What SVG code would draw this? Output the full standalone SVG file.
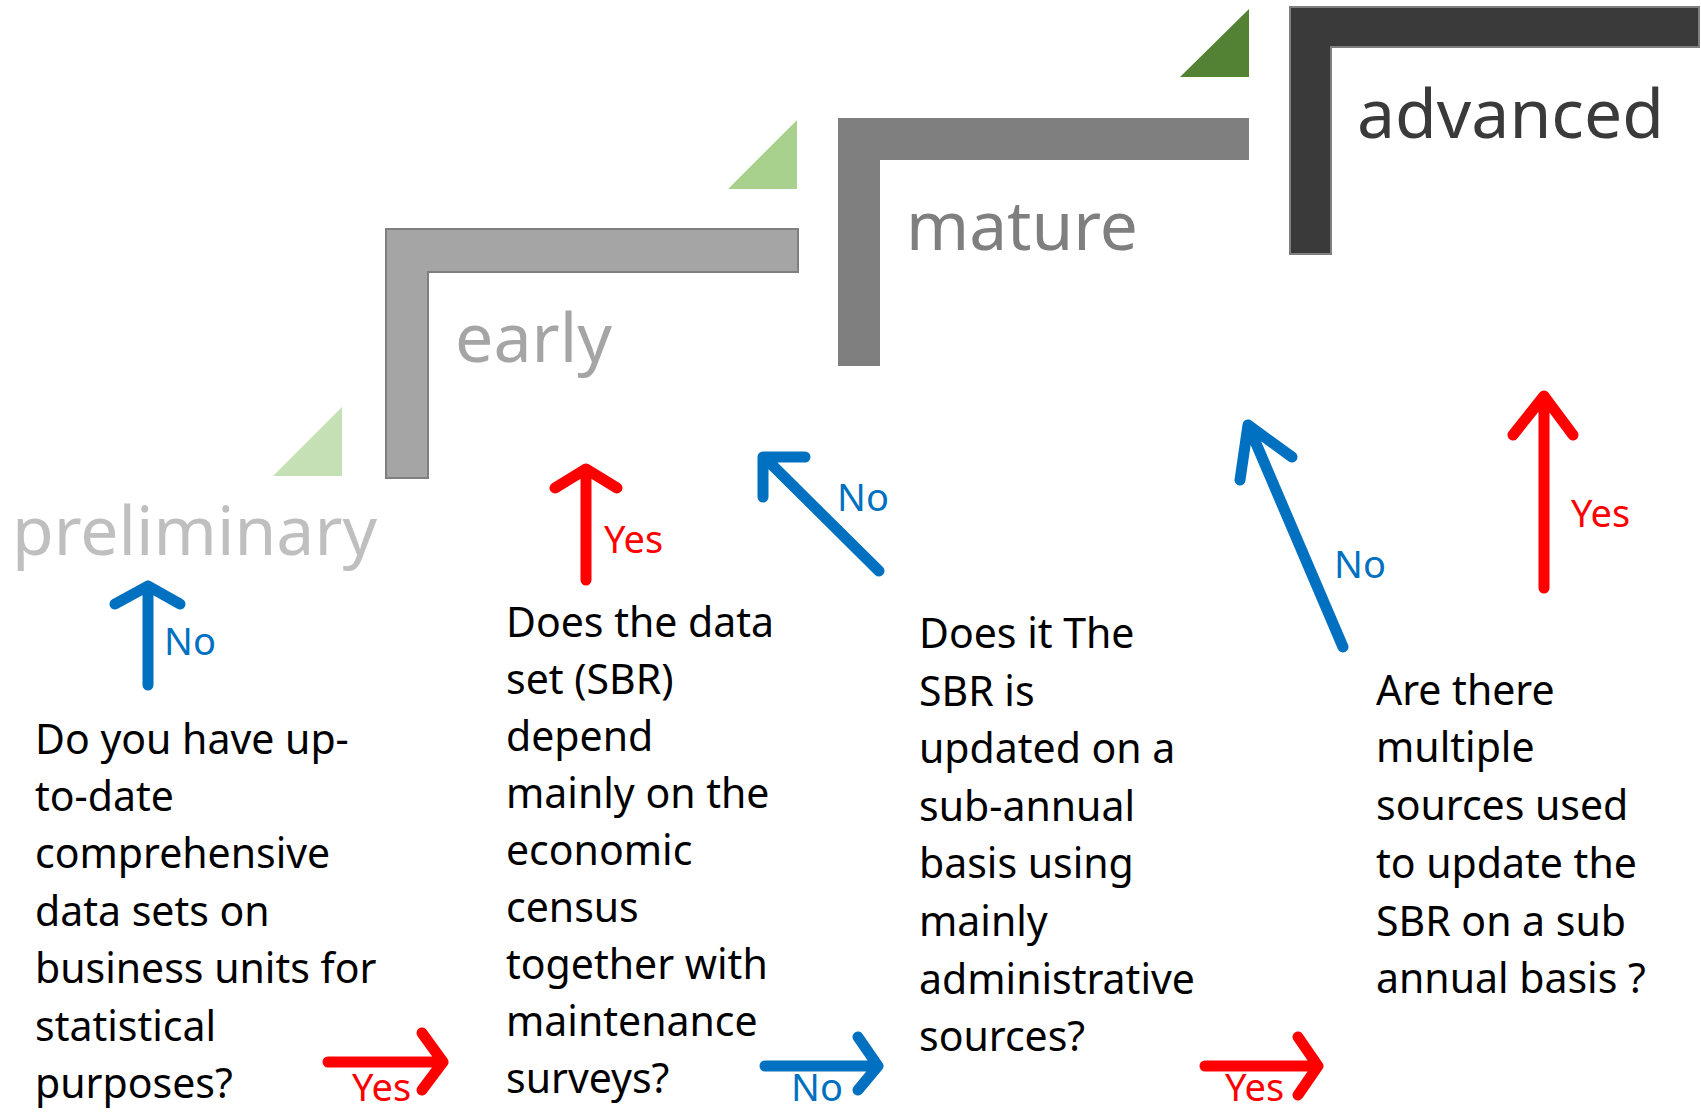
<svg xmlns="http://www.w3.org/2000/svg" width="1701" height="1112" viewBox="0 0 1701 1112">
<style>
.q{font-family:"Noto Sans","Open Sans","Liberation Sans",sans-serif;font-size:41px;fill:#000}
.lbl{font-family:"Noto Sans","Open Sans","Liberation Sans",sans-serif;font-size:68px}
.yn{font-family:"Noto Sans","Open Sans","Liberation Sans",sans-serif;font-size:38px}
.blue{stroke:#0070C0;stroke-width:11;fill:none;stroke-linecap:round;stroke-linejoin:round}
.red{stroke:#FF0000;stroke-width:11;fill:none;stroke-linecap:round;stroke-linejoin:round}
.bt{fill:#0070C0}
.rt{fill:#FF0000}
</style>
<rect width="1701" height="1112" fill="#fff"/>
<g id="stage-preliminary">
<polygon points="273,476 342,476 342,407" fill="#C5E0B4"/>
<text class="lbl" x="12" y="555" fill="#BFBFBF" textLength="365" lengthAdjust="spacingAndGlyphs">preliminary</text>
</g>
<g id="stage-early">
<polygon points="386,229 798,229 798,272 428,272 428,478 386,478" fill="#A5A5A5" stroke="#7F7F7F" stroke-width="2"/>
<polygon points="728,189 797,189 797,120" fill="#A9D18E"/>
<text class="lbl" x="455" y="362" fill="#A5A5A5" textLength="157" lengthAdjust="spacingAndGlyphs">early</text>
</g>
<g id="stage-mature">
<polygon points="838,118 1249,118 1249,160 880,160 880,366 838,366" fill="#7F7F7F"/>
<polygon points="1180,77 1249,77 1249,9" fill="#548235"/>
<text class="lbl" x="906" y="250" fill="#7F7F7F" textLength="232" lengthAdjust="spacingAndGlyphs">mature</text>
</g>
<g id="stage-advanced">
<polygon points="1290,7 1699,7 1699,47 1331,47 1331,254 1290,254" fill="#3A3A3A" stroke="#7F7F7F" stroke-width="2"/>
<text class="lbl" x="1357" y="138" fill="#3A3A3A" textLength="307" lengthAdjust="spacingAndGlyphs">advanced</text>
</g>
<g id="q1">
<text class="q" x="35" y="754">Do you have up-</text>
<text class="q" x="35" y="811">to-date</text>
<text class="q" x="35" y="868">comprehensive</text>
<text class="q" x="35" y="926">data sets on</text>
<text class="q" x="35" y="983">business units for</text>
<text class="q" x="35" y="1041">statistical</text>
<text class="q" x="35" y="1098">purposes?</text>
</g>
<g id="q2">
<text class="q" x="506" y="637">Does the data</text>
<text class="q" x="506" y="694">set (SBR)</text>
<text class="q" x="506" y="751">depend</text>
<text class="q" x="506" y="808">mainly on the</text>
<text class="q" x="506" y="865">economic</text>
<text class="q" x="506" y="922">census</text>
<text class="q" x="506" y="979">together with</text>
<text class="q" x="506" y="1036">maintenance</text>
<text class="q" x="506" y="1093">surveys?</text>
</g>
<g id="q3">
<text class="q" x="919" y="648">Does it The</text>
<text class="q" x="919" y="706">SBR is</text>
<text class="q" x="919" y="763">updated on a</text>
<text class="q" x="919" y="821">sub-annual</text>
<text class="q" x="919" y="878">basis using</text>
<text class="q" x="919" y="936">mainly</text>
<text class="q" x="919" y="994">administrative</text>
<text class="q" x="919" y="1051">sources?</text>
</g>
<g id="q4">
<text class="q" x="1376" y="705">Are there</text>
<text class="q" x="1376" y="762">multiple</text>
<text class="q" x="1376" y="820">sources used</text>
<text class="q" x="1376" y="878">to update the</text>
<text class="q" x="1376" y="936">SBR on a sub</text>
<text class="q" x="1376" y="993">annual basis ?</text>
</g>
<g id="connectors">
<path class="blue" d="M148,685 L148,586 M115,604 L148,586 L180,604"/>
<text class="yn bt" x="164" y="655">No</text>
<path class="red" d="M586,580 L586,469 M555,488 L586,469 L617,488"/>
<text class="yn rt" x="604" y="553">Yes</text>
<path class="blue" d="M879,571 L765,458 M763,497 L763,457 L805,457"/>
<text class="yn bt" x="837" y="511">No</text>
<path class="blue" d="M1343,647 L1249,427 M1240,480 L1248,425 L1292,457"/>
<text class="yn bt" x="1334" y="578">No</text>
<path class="red" d="M1544,588 L1544,397 M1513,435 L1544,396 L1573,435"/>
<text class="yn rt" x="1571" y="527">Yes</text>
<path class="red" d="M328,1062 L441,1062 M422,1033 L443,1062 L422,1090"/>
<text class="yn rt" x="352" y="1101">Yes</text>
<path class="blue" d="M765,1066 L876,1066 M858,1037 L878,1066 L858,1090"/>
<text class="yn bt" x="791" y="1101">No</text>
<path class="red" d="M1205,1066 L1316,1066 M1298,1037 L1318,1066 L1298,1095"/>
<text class="yn rt" x="1225" y="1101">Yes</text>
</g>
</svg>
